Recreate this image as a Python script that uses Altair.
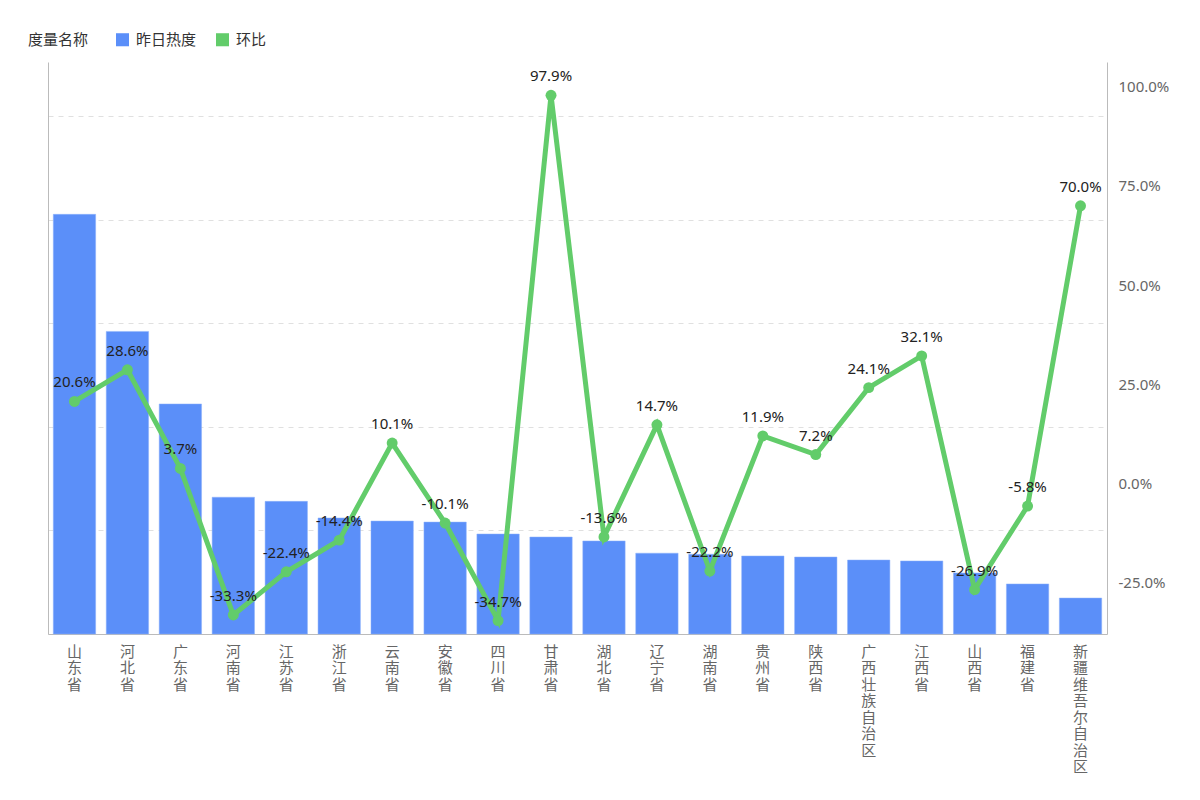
import altair as alt
import pandas as pd

provinces = ["山东省", "河北省", "广东省", "河南省", "江苏省", "浙江省", "云南省", "安徽省", "四川省", "甘肃省",
             "湖北省", "辽宁省", "湖南省", "贵州省", "陕西省", "广西壮族自治区", "江西省", "山西省", "福建省", "新疆维吾尔自治区"]
heat = [4050, 2920, 2220, 1320, 1280, 1120, 1090, 1080, 965, 936,
        898, 780, 770, 753, 743, 714, 705, 589, 483, 347]
mom = [0.206, 0.286, 0.037, -0.333, -0.224, -0.144, 0.101, -0.101, -0.347, 0.979,
       -0.136, 0.147, -0.222, 0.119, 0.072, 0.241, 0.321, -0.269, -0.058, 0.700]
measures = ["昨日热度", "环比"]
colors = ["#5B8FF9", "#62CC6A"]

df = pd.DataFrame({"省份": provinces, "昨日热度": heat, "环比": mom, "度量名称": "昨日热度"})

FONT = "Noto Sans CJK SC"

x = alt.X("省份:N", sort=provinces, title=None,
          scale=alt.Scale(paddingInner=0.2, paddingOuter=0.1),
          axis=alt.Axis(labelAngle=0, labelExpr="split(datum.label, '')", labelLineHeight=16.5,
                        labelFontSize=15, labelColor="#666666", labelFont=FONT, labelBaseline="top",
                        ticks=False, labelPadding=10, domainColor="#bbbbbb", grid=False))

bars = alt.Chart(df).mark_bar(stroke="#8FB2FB", strokeWidth=0.5).encode(
    x=x,
    y=alt.Y("昨日热度:Q", title=None, scale=alt.Scale(domain=[0, 5520], nice=False),
            axis=alt.Axis(values=[0, 1000, 2000, 3000, 4000, 5000], labels=False, ticks=False,
                          grid=True, gridDash=[5, 5], gridColor="#e0e0e0", domainColor="#bbbbbb",
                          orient="left")),
    color=alt.Color("度量名称:N", scale=alt.Scale(domain=measures, range=colors),
                    legend=alt.Legend(title="度量名称", orient="none", legendX=-20, legendY=-30,
                                      direction="horizontal", titleOrient="left", symbolType="square",
                                      symbolSize=170, titleFont=FONT, labelFont=FONT, titleFontSize=15,
                                      labelFontSize=15, titleFontWeight="normal", titleColor="#333333",
                                      labelColor="#333333", titlePadding=26, columnPadding=18,
                                      labelOffset=6, symbolStrokeWidth=0)),
)

yline = alt.Y("环比:Q", title=None, scale=alt.Scale(domain=[-0.381, 1.063], nice=False, zero=False),
              axis=alt.Axis(orient="right", values=[-0.25, 0, 0.25, 0.5, 0.75, 1.0], format=".1%",
                            labelExpr="replace(datum.label, '\u2212', '-')",
                            ticks=False, grid=False, labelFontSize=15, labelColor="#666666",
                            labelPadding=11, domainColor="#bbbbbb", labelFont="Noto Sans"))

base = alt.Chart(df).transform_calculate(
    lbl="replace(format(datum['环比'], '.1%'), '\u2212', '-')"
)
line = base.mark_line(color="#62CC6A", strokeWidth=5).encode(x=x, y=yline)
points = base.mark_point(filled=True, color="#62CC6A", size=120, opacity=1).encode(x=x, y=yline)
labels = base.mark_text(dy=-19, fontSize=15, color="#222222", font="Noto Sans").encode(
    x=x, y=yline, text="lbl:N")

right = alt.layer(line, points, labels)

chart = alt.layer(bars, right).resolve_scale(y="independent").properties(
    width=1059, height=572,
    autosize=alt.AutoSizeParams(type="none"),
    padding={"left": 40, "top": 54, "right": 85, "bottom": 158},
).configure(font=FONT).configure_view(stroke=None)

chart.save("out.html", embed_options={"renderer": "svg", "actions": False})
